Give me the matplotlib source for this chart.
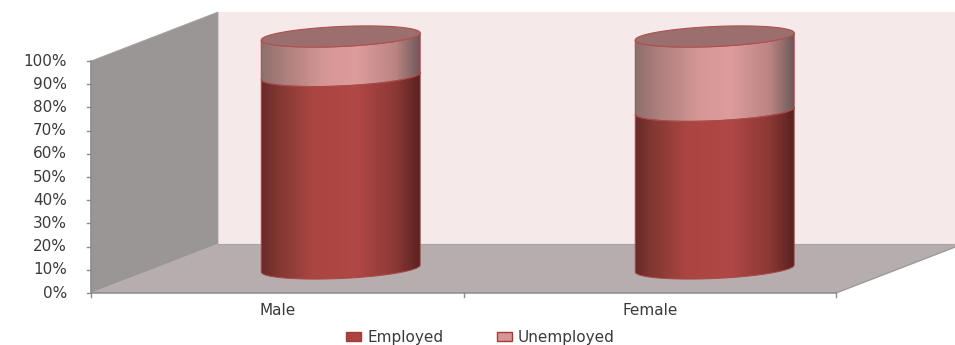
#!/usr/bin/env python3
import numpy as np
import matplotlib
matplotlib.use('Agg')
import matplotlib.pyplot as plt
from matplotlib.colors import LinearSegmentedColormap
from matplotlib.patches import Patch, Polygon

categories = ['Male', 'Female']
employed = [83, 68]
unemployed = [17, 32]
yticks = [0, 10, 20, 30, 40, 50, 60, 70, 80, 90, 100]

# oblique projection of the 3D chart, in category / percent units
DX = 127 / 372.5
DY = 49 / 2.32
RX = 79.5 / 372.5
RY = 10 / 2.32
SHEAR = 3.5 / 2.32
BAR_STEP = 374 / 372.5  # bars sit a touch wider apart than the categories

emp_cmap = LinearSegmentedColormap.from_list('emp', [
    (0, '#6a2a28'), (0.1, '#803632'), (0.32, '#ab4541'), (0.6, '#b04846'),
    (0.85, '#8c3835'), (1, '#5a2220')])
unemp_cmap = LinearSegmentedColormap.from_list('unemp', [
    (0, '#8f6e6e'), (0.15, '#ad7f7d'), (0.4, '#d59795'), (0.6, '#de9c9c'),
    (0.85, '#ba8482'), (1, '#6f5a5a')])


def proj(x, y, depth=0.0):
    return x + depth * DX, y + depth * DY


def arc(cx, v, t):
    return np.column_stack([cx + RX * np.cos(t), v + SHEAR * np.cos(t) + RY * np.sin(t)])


def draw_segment(ax, cx, v0, v1, cmap):
    front = np.linspace(np.pi, 2 * np.pi, 60)
    pts = np.vstack([arc(cx, v0, front), arc(cx, v1, front)[::-1]])
    poly = Polygon(pts, closed=True, facecolor='none', edgecolor='#a84a48', lw=0.7, zorder=4)
    ax.add_patch(poly)
    grad = np.linspace(0, 1, 256).reshape(1, -1)
    im = ax.imshow(grad, cmap=cmap, aspect='auto', zorder=3,
                   extent=(cx - RX, cx + RX, v0 - 10, v1 + 10))
    im.set_clip_path(poly)


def main():
    fig = plt.figure(figsize=(9.55, 3.45), dpi=100)
    ax = fig.add_axes([0, 0, 1, 1])
    ax.axis('off')
    n = len(categories)

    xlim = (-91 / 372.5, (955 - 91) / 372.5)
    ylim = ((293 - 345) / 2.32, 293 / 2.32)

    # walls and floor
    ax.add_patch(Polygon([proj(0, 100, 1), proj(n + 1, 100, 1), proj(n + 1, 0, 1), proj(0, 0, 1)],
                         facecolor='#f5e9e9', edgecolor='none', zorder=1))
    ax.add_patch(Polygon([proj(0, 0), proj(0, 100), proj(0, 100, 1), proj(0, 0, 1)],
                         facecolor='#9b9696', edgecolor='#a8a4a4', lw=0.6, zorder=2))
    ax.add_patch(Polygon([proj(0, 0), proj(0, 0, 1), proj(n, 0, 1), proj(n, 0)],
                         facecolor='#b6aeae', edgecolor='none', zorder=2))
    ax.plot(*zip(proj(0, 0, 1), proj(n, 0, 1)), color='#a8a2a2', lw=0.8, zorder=2)
    ax.plot(*zip(proj(n, 0), proj(n, 0, 1)), color='#9a9a9a', lw=1, zorder=2)

    # axes lines, ticks and labels
    ax.plot([0, n], [0, 0], color='#8c8c8c', lw=1.1, zorder=2)
    ax.plot([0, 0], [0, 100], color='#8c8c8c', lw=1.1, zorder=2)
    for v in yticks:
        ax.plot([-4 / 372.5, 0], [v, v], color='#8c8c8c', lw=1, zorder=2)
        ax.text(-24 / 372.5, v, f'{v}%', ha='right', va='center', fontsize=11, color='#3a3a3a')
    for i in range(n + 1):
        ax.plot([i, i], [0, -4 / 2.32], color='#8c8c8c', lw=1, zorder=2)
    for i, c in enumerate(categories):
        ax.text(i + 0.5, -7.5, c, ha='center', va='center', fontsize=11, color='#3a3a3a')

    # cylinders
    for i in range(n):
        cx, base = proj(0.5 + i * BAR_STEP, 0, 0.5)
        mid = base + employed[i]
        top = mid + unemployed[i]
        draw_segment(ax, cx, base, mid, emp_cmap)
        draw_segment(ax, cx, mid, top, unemp_cmap)
        t = np.linspace(0, 2 * np.pi, 120)
        ax.add_patch(Polygon(arc(cx, top, t), closed=True, facecolor='#9c6f6f',
                             edgecolor='#b0504f', lw=0.8, zorder=5))

    ax.set_xlim(*xlim)
    ax.set_ylim(*ylim)

    handles = [Patch(facecolor='#ab4341', edgecolor='#a03c3a', label='Employed'),
               Patch(facecolor='#d59795', edgecolor='#a03c3a', label='Unemployed')]
    fig.legend(handles=handles, loc='lower center', bbox_to_anchor=(0.503, -0.04), ncol=2,
               frameon=False, fontsize=11, handlelength=1.0, handleheight=0.55,
               handletextpad=0.4, columnspacing=3.5, labelcolor='#3a3a3a')

    fig.savefig('out.png', dpi=100)
    plt.close(fig)


if __name__ == '__main__':
    main()
